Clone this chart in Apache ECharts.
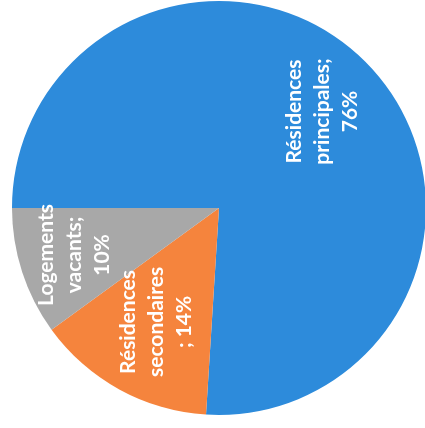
<!DOCTYPE html>
<html><head><meta charset="utf-8">
<script src="https://cdn.jsdelivr.net/npm/echarts@6/dist/echarts.min.js"></script>
<style>html,body{margin:0;padding:0;background:#fff}#c{width:425px;height:428px}</style>
</head><body><div id="c"></div>
<script>
const categories = ["Résidences\nprincipales;\n76%", "Résidences\nsecondaires\n; 14%", "Logements\nvacants;\n10%"];
const values = [76, 14, 10];
const colors = ["#2D8BDB", "#F5843D", "#A8A8A8"];

const chart = echarts.init(document.getElementById('c'), null, {renderer: 'canvas'});
const data = categories.map((n, i) => ({name: n, value: values[i], itemStyle: {color: colors[i]}}));
function ghost(showIdx) {
  return categories.map((n, i) => ({name: n, value: values[i], label: {show: showIdx.indexOf(i) >= 0}}));
}
const labelStyle = {show: true, position: 'inside', rotate: 90, color: '#fff', fontFamily: 'Lato', fontWeight: 'bold',
                    fontSize: 21, lineHeight: 28, align: 'center', formatter: p => p.name};
function ghostSeries(outer, showIdx) {
  return {
    type: 'pie', center: [219, 208], radius: [20, outer], startAngle: 180, clockwise: true,
    silent: true, avoidLabelOverlap: false, itemStyle: {color: 'rgba(0,0,0,0)'},
    labelLine: {show: false}, labelLayout: {hideOverlap: false},
    label: labelStyle, data: ghost(showIdx)
  };
}
chart.setOption({
  animation: false,
  series: [
    {
      type: 'pie', center: [219, 208], radius: 207, startAngle: 180, clockwise: true,
      label: {show: false}, labelLine: {show: false}, silent: true,
      itemStyle: {borderWidth: 0},
      data: data
    },
    ghostSeries(256, [0]),
    ghostSeries(234, [1]),
    ghostSeries(278, [2])
  ]
});
</script></body></html>
